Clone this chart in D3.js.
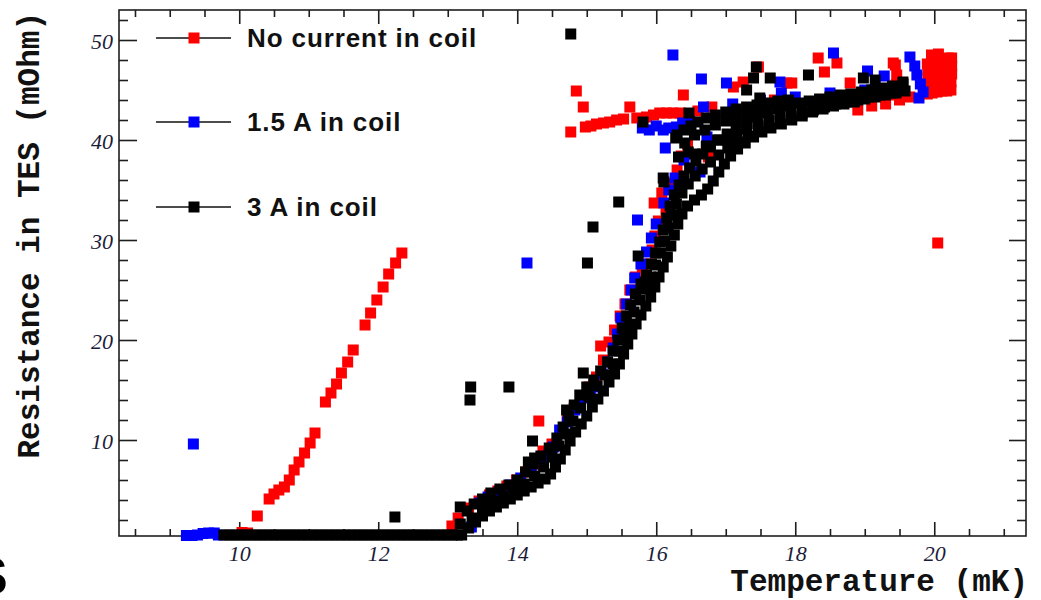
<!DOCTYPE html>
<html>
<head>
<meta charset="utf-8">
<script src="https://cdn.jsdelivr.net/npm/d3@7"></script>
<style>
  html, body { margin: 0; padding: 0; background: #fff; }
  svg { display: block; }
</style>
</head>
<body>
<svg id="chart" width="1041" height="600"></svg>
<script>
// Measured TES resistance (mOhm) versus temperature (mK), three coil currents.
// Each entry is [temperature, resistance].

const seriesNames = ["No current in coil", "1.5 A in coil", "3 A in coil"];
const seriesColors = ["#ff0000", "#0000ff", "#000000"];

const xMajorTicks = [10, 12, 14, 16, 18, 20];
const yMajorTicks = [10, 20, 30, 40, 50];

const noCurrent = [
  [10.04,0.75],[10.12,0.7],
  [10.26,2.4],[10.43,4.1],[10.50,4.6],[10.57,5.0],[10.65,5.3],[10.72,6.0],[10.79,7.0],
  [10.86,7.8],[10.94,8.7],[11.02,9.7],[11.09,10.7],[11.24,13.8],[11.32,14.7],[11.40,15.6],
  [11.47,16.7],[11.56,17.8],[11.64,19.0],[11.81,21.5],[11.89,22.7],[11.98,24.0],[12.07,25.3],
  [12.15,26.6],[12.25,27.7],[12.34,28.7],
  [13.06,1.4],[13.15,2.2],[13.30,3.2],[13.45,3.9],[13.60,4.5],[13.72,4.9],[13.85,5.4],[13.99,6.0],
  [14.12,6.8],[14.25,7.6],[14.37,8.9],[14.31,11.9],[14.50,9.6],[14.62,10.8],[14.72,12.0],[14.82,13.2],
  [14.92,14.3],[15.03,15.3],[15.14,16.3],[15.24,18.0],[15.20,19.4],[15.32,19.8],[15.40,21.0],
  [15.48,22.4],[15.55,23.6],[15.62,25.0],[15.70,26.3],[15.80,27.3],[15.91,27.6],[15.94,29.0],
  [15.98,30.4],[16.03,31.9],[15.97,33.7],[16.08,34.7],[16.14,33.0],[16.22,35.6],[16.30,37.0],
  [16.36,38.4],[16.75,38.3],[16.45,39.6],
  [14.77,40.8],[14.85,44.9],[14.95,43.3],[14.98,41.3],[15.06,41.4],[15.14,41.6],[15.24,41.7],
  [15.33,41.8],[15.43,42.0],[15.53,42.1],[15.62,43.3],[15.72,42.2],[15.86,42.3],[15.96,42.5],
  [16.05,42.7],[16.15,42.7],[16.24,42.7],[16.34,42.7],[16.39,44.5],[16.60,42.9],[16.80,43.3],
  [17.11,45.3],[17.25,45.8],[17.47,47.3],[17.70,44.0],[17.88,45.7],[17.95,45.7],[18.33,48.2],
  [18.42,46.8],[18.60,47.7],[18.79,45.7],[18.90,43.0],[19.10,43.4],[19.30,43.6],[19.41,47.7],
  [19.45,44.5],[19.45,45.5],[19.46,46.5],[19.44,47.5],[19.50,44.0],[19.65,44.3],
  [19.90,44.6],[19.90,45.4],[19.91,46.2],[19.91,47.0],[19.90,47.6],[19.96,48.5],
  [19.97,44.7],[19.97,45.5],[19.98,46.3],[19.98,47.1],[19.99,47.9],
  [20.04,44.8],[20.04,45.6],[20.05,46.4],[20.05,47.2],[20.05,48.0],[20.06,48.6],
  [20.11,44.9],[20.11,45.7],[20.12,46.5],[20.12,47.3],[20.13,47.8],
  [20.18,44.9],[20.18,45.8],[20.19,46.6],[20.19,47.4],[20.20,48.2],
  [20.24,45.0],[20.24,45.8],[20.25,46.6],[20.25,47.4],[20.25,48.2],
  [20.05,29.7]
];

const coil15A = [
  [9.24,0.45],[9.32,0.45],[9.40,0.5],[9.48,0.65],[9.56,0.7],[9.64,0.7],[9.70,0.5],
  [9.34,9.6],[14.14,27.7],[16.24,48.5],
  [13.34,1.3],[13.46,3.7],[13.58,4.3],[13.74,4.8],[13.90,5.5],[14.05,6.2],[14.20,7.0],[14.35,8.0],
  [14.45,8.5],[14.52,9.3],[14.61,11.0],[14.72,11.8],[14.83,13.0],[14.95,14.2],[15.05,14.8],
  [15.14,15.3],[15.22,16.6],[15.30,17.8],[15.38,19.2],[15.44,20.6],[15.49,22.2],[15.57,23.6],
  [15.64,25.0],[15.69,26.2],[15.78,27.6],[15.86,28.8],[15.93,30.2],[16.00,31.6],[15.73,32.0],
  [16.11,33.7],[16.18,35.0],[16.27,36.2],[16.63,36.8],[16.13,39.2],[16.40,38.0],
  [15.80,41.2],[15.90,41.0],[16.00,41.4],[16.10,41.0],[16.18,41.2],[16.29,41.3],[16.38,41.7],
  [16.48,41.9],[16.68,43.3],[16.73,40.3],[16.65,46.1],[17.01,45.7],[17.10,43.6],[17.50,44.0],
  [17.78,45.8],[17.80,44.7],[18.00,44.3],[18.50,44.7],[18.55,48.7],[19.00,45.0],[19.04,46.9],
  [19.28,46.4],[19.40,45.3],[19.65,48.3],[19.72,47.4],[19.75,46.5],[19.80,45.6],[19.84,44.8],
  [19.78,44.2]
];

const coil3A = [
  // superconducting floor
  [9.78,0.5],[9.86,0.5],[9.94,0.5],[10.02,0.5],[10.10,0.5],[10.18,0.5],[10.26,0.5],[10.34,0.5],
  [10.42,0.5],[10.50,0.5],[10.58,0.5],[10.66,0.5],[10.74,0.5],[10.82,0.5],[10.90,0.5],[10.98,0.5],
  [11.06,0.5],[11.14,0.5],[11.22,0.5],[11.30,0.5],[11.38,0.5],[11.46,0.5],[11.54,0.5],[11.62,0.5],
  [11.70,0.5],[11.78,0.5],[11.86,0.5],[11.94,0.5],[12.02,0.5],[12.10,0.5],[12.18,0.5],[12.26,0.5],
  [12.34,0.5],[12.42,0.5],[12.50,0.5],[12.58,0.5],[12.66,0.5],[12.74,0.5],[12.82,0.5],[12.90,0.5],
  [12.98,0.5],[13.06,0.5],[13.14,0.5],
  // scattered readings
  [12.24,2.3],[13.18,3.3],[13.33,15.3],[13.32,14.0],[13.88,15.3],[14.22,9.9],[14.71,13.0],
  [14.95,16.7],[15.01,27.7],[15.74,28.4],[15.46,33.8],[15.09,31.3],[16.11,35.8],[15.84,25.8],
  [14.77,50.6],[14.16,7.8],[14.25,8.2],
  // transition, low side
  [13.20,0.5],[13.30,1.2],[13.40,1.8],[13.50,2.4],[13.60,2.9],[13.70,3.3],[13.80,3.7],[13.90,4.1],
  [14.00,4.5],[14.10,4.9],[14.20,5.3],[14.30,5.7],[14.40,6.1],[14.48,6.6],[14.55,7.3],[14.62,8.1],
  [14.69,9.0],[14.76,9.9],[14.84,10.8],[14.92,11.6],[15.00,12.4],[15.08,13.3],[15.16,14.1],
  [15.24,14.9],[15.32,15.8],[15.40,16.6],[15.47,17.6],[15.53,18.6],[15.59,19.6],[15.65,20.6],
  [15.71,21.6],[15.78,22.5],[15.85,23.4],[15.92,24.3],[15.98,25.3],[16.04,26.3],[16.10,27.3],
  [16.16,28.3],[16.21,29.4],[16.26,30.5],[16.31,31.6],[16.37,32.6],[16.45,33.4],[16.55,34.0],
  [16.65,34.5],[16.74,35.1],[16.82,35.9],[16.90,36.8],[16.98,37.6],[17.07,38.4],[17.17,39.1],
  [17.28,39.7],[17.40,40.3],[17.52,40.8],[17.65,41.2],[17.80,41.6],[17.95,42.0],[18.10,42.4],
  [18.25,42.8],[18.40,43.1],[18.55,43.4],[18.70,43.6],[18.85,43.8],[19.00,44.1],[19.15,44.3],
  [19.30,44.5],[19.45,44.7],[19.58,44.9],
  // transition, middle
  [13.35,2.2],[13.50,3.2],[13.65,3.9],[13.80,4.4],[13.95,5.0],[14.10,5.6],[14.25,6.4],[14.38,7.3],
  [14.50,8.3],[14.60,9.4],[14.70,10.6],[14.80,11.9],[14.91,13.2],[15.03,14.3],[15.15,15.4],
  [15.27,16.5],[15.38,17.6],[15.47,18.9],[15.54,20.2],[15.61,21.5],[15.68,22.8],[15.76,24.0],
  [15.84,25.1],[15.92,26.3],[15.99,27.5],[16.06,28.7],[16.12,29.9],[16.17,31.2],[16.22,32.5],
  [16.29,33.6],[16.37,34.7],[16.46,35.6],[16.56,36.4],[16.66,37.1],[16.78,37.8],[16.90,38.5],
  [17.03,39.2],[17.17,39.8],[17.32,40.4],[17.47,40.9],[17.62,41.4],[17.78,41.9],[17.94,42.3],
  [18.10,42.7],[18.26,43.0],[18.42,43.3],[18.58,43.6],[18.74,43.8],[18.90,44.0],[19.06,44.3],
  [19.22,44.5],[19.38,44.7],[19.52,45.0],
  // transition, high side
  [13.18,1.6],[13.28,2.9],[13.38,3.6],[13.50,4.1],[13.62,4.7],[13.75,5.1],[13.88,5.5],[14.00,6.0],
  [14.12,6.8],[14.22,7.6],[14.34,8.4],[14.46,9.2],[14.57,10.2],[14.66,11.3],[14.74,12.4],
  [14.82,13.5],[14.90,14.5],[15.00,15.3],[15.10,16.0],[15.20,16.9],[15.30,17.8],[15.38,18.9],
  [15.45,20.0],[15.51,21.2],[15.57,22.4],[15.63,23.5],[15.70,24.6],[15.78,25.6],[15.86,26.5],
  [15.93,27.6],[15.99,28.7],[16.05,29.8],[16.10,31.0],[16.15,32.2],[16.20,33.4],[16.26,34.5],
  [16.33,35.5],[16.40,36.4],[16.48,37.2],[16.57,37.9],[16.67,38.6],[16.78,39.3],[16.90,40.0],
  [17.02,40.6],[17.15,41.2],[17.30,41.8],[17.45,42.3],[17.60,42.7],[17.75,43.1],[17.90,43.4],
  [18.05,43.7],[18.20,43.9],[18.35,44.1],[18.50,44.3],[18.65,44.5],[18.80,44.6],[18.95,44.8],
  [19.10,45.0],[19.25,45.2],[19.40,45.4],[19.55,45.6],
  // between middle and high side
  [16.55,38.6],[16.72,39.4],[16.88,40.0],[17.02,40.0],[17.16,40.5],[17.30,41.1],[17.46,41.6],
  [17.62,42.0],[17.78,42.5],[17.94,42.9],[18.10,43.2],[18.26,43.5],[18.42,43.7],[18.58,43.9],
  [18.74,44.1],[18.90,44.3],[19.06,44.6],[19.22,44.8],[19.38,45.0],[19.52,45.3],
  // upper branch
  [16.28,40.2],[16.30,40.5],[16.40,41.0],[16.50,41.4],[16.60,41.8],[16.72,42.2],[16.85,42.5],
  [17.00,42.8],[17.15,43.1],[17.30,43.3],[17.45,43.5],[17.60,43.7],[17.75,43.9],[17.90,44.0],
  [16.55,40.5],[16.70,41.0],[16.85,41.5],[17.00,41.9],[17.15,42.2],[17.30,42.5],[17.45,42.8],
  [16.10,36.2],[16.32,38.3],[16.46,38.8],[16.41,39.7],[16.47,42.7],[15.81,41.8],[17.30,45.0],
  [17.40,46.2],[17.44,47.3],[17.49,44.2],[17.64,46.2],[18.19,46.5],[18.98,46.2],[19.15,46.0],
  [19.55,45.8]
];

const allSeries = [noCurrent, coil15A, coil3A];

const svg = d3.select("#chart");
const frame = { left: 119, right: 1026, top: 10, bottom: 536 };

const x = d3.scaleLinear().domain([8.27, 21.32]).range([frame.left, frame.right]);
const y = d3.scaleLinear().domain([0.4, 53]).range([frame.bottom, frame.top]);

const xMinorTicks = d3.range(8.5, 21.01, 0.5).filter(v => !xMajorTicks.includes(v));
const yMinorTicks = d3.range(2, 53, 2).filter(v => !yMajorTicks.includes(v));

const axisColor = "#1e1e1e";
const labelFont = "'Liberation Serif', 'Times New Roman', serif";

function styleAxis(g) {
  g.selectAll("path.domain").remove();
  g.selectAll("line").attr("stroke", axisColor).attr("stroke-width", 1.6);
}

// bottom axis with labels
svg.append("g").attr("transform", `translate(0,${frame.bottom})`)
  .call(d3.axisBottom(x).tickValues(xMajorTicks).tickSize(-14).tickSizeOuter(0).tickPadding(9)
    .tickFormat(d3.format("d")))
  .call(styleAxis)
  .call(g => g.selectAll("text")
    .attr("font-family", labelFont).attr("font-style", "italic")
    .attr("font-size", 22).attr("fill", "#1c1c3a"));
svg.append("g").attr("transform", `translate(0,${frame.bottom})`)
  .call(d3.axisBottom(x).tickValues(xMinorTicks).tickSize(-7).tickSizeOuter(0).tickFormat(""))
  .call(styleAxis);

// top axis
svg.append("g").attr("transform", `translate(0,${frame.top})`)
  .call(d3.axisTop(x).tickValues(xMajorTicks).tickSize(-14).tickSizeOuter(0).tickFormat(""))
  .call(styleAxis);
svg.append("g").attr("transform", `translate(0,${frame.top})`)
  .call(d3.axisTop(x).tickValues(xMinorTicks).tickSize(-7).tickSizeOuter(0).tickFormat(""))
  .call(styleAxis);

// left axis with labels
svg.append("g").attr("transform", `translate(${frame.left},0)`)
  .call(d3.axisLeft(y).tickValues(yMajorTicks).tickSize(-18).tickSizeOuter(0).tickPadding(6)
    .tickFormat(d3.format("d")))
  .call(styleAxis)
  .call(g => g.selectAll("text")
    .attr("font-family", labelFont).attr("font-style", "italic")
    .attr("font-size", 22).attr("fill", "#1c1c3a").attr("dy", "0.4em"));
svg.append("g").attr("transform", `translate(${frame.left},0)`)
  .call(d3.axisLeft(y).tickValues(yMinorTicks).tickSize(-9).tickSizeOuter(0).tickFormat(""))
  .call(styleAxis);

// right axis
svg.append("g").attr("transform", `translate(${frame.right},0)`)
  .call(d3.axisRight(y).tickValues(yMajorTicks).tickSize(-17).tickSizeOuter(0).tickFormat(""))
  .call(styleAxis);
svg.append("g").attr("transform", `translate(${frame.right},0)`)
  .call(d3.axisRight(y).tickValues(yMinorTicks).tickSize(-9).tickSizeOuter(0).tickFormat(""))
  .call(styleAxis);

// frame
svg.append("rect")
  .attr("x", frame.left).attr("y", frame.top)
  .attr("width", frame.right - frame.left).attr("height", frame.bottom - frame.top)
  .attr("fill", "none").attr("stroke", axisColor).attr("stroke-width", 1.6);

// markers: filled squares
const markerSize = 11;
allSeries.forEach((data, i) => {
  svg.append("g").attr("class", "series")
    .selectAll("rect").data(data).join("rect")
    .attr("x", d => x(d[0]) - markerSize / 2)
    .attr("y", d => y(d[1]) - markerSize / 2)
    .attr("width", markerSize).attr("height", markerSize)
    .attr("fill", seriesColors[i]);
});

// axis titles
const titleFont = "'Liberation Mono', 'Courier New', monospace";
svg.append("text")
  .attr("x", 1028).attr("y", 591)
  .attr("text-anchor", "end")
  .attr("font-family", titleFont).attr("font-weight", "bold").attr("font-size", 31)
  .attr("fill", "#111")
  .text("Temperature (mK)");
svg.append("text")
  .attr("transform", "translate(39,12) rotate(-90)")
  .attr("text-anchor", "end")
  .attr("font-family", titleFont).attr("font-weight", "bold").attr("font-size", 31)
  .attr("fill", "#111")
  .text("Resistance in TES (mOhm)");

// legend
const legendRows = [38, 122, 207];
const legend = svg.append("g");
seriesNames.forEach((name, i) => {
  const row = legend.append("g").attr("transform", `translate(0,${legendRows[i]})`);
  row.append("line").attr("x1", 156).attr("x2", 231).attr("y1", 0).attr("y2", 0)
    .attr("stroke", "#111").attr("stroke-width", 1.6);
  row.append("rect").attr("x", 194 - markerSize / 2).attr("y", -markerSize / 2)
    .attr("width", markerSize).attr("height", markerSize).attr("fill", seriesColors[i]);
  row.append("text").attr("x", 247).attr("y", 9)
    .attr("font-family", "'Liberation Sans', Arial, sans-serif").attr("font-weight", "bold")
    .attr("font-size", 26).attr("letter-spacing", 0.9).attr("fill", "#111")
    .text(name);
});

// stray heading letter at the lower-left edge
svg.append("text").attr("x", -27).attr("y", 594)
  .attr("font-family", "'Liberation Sans', Arial, sans-serif").attr("font-weight", "bold")
  .attr("font-size", 52).attr("fill", "#000").text("S");
</script>
</body>
</html>
